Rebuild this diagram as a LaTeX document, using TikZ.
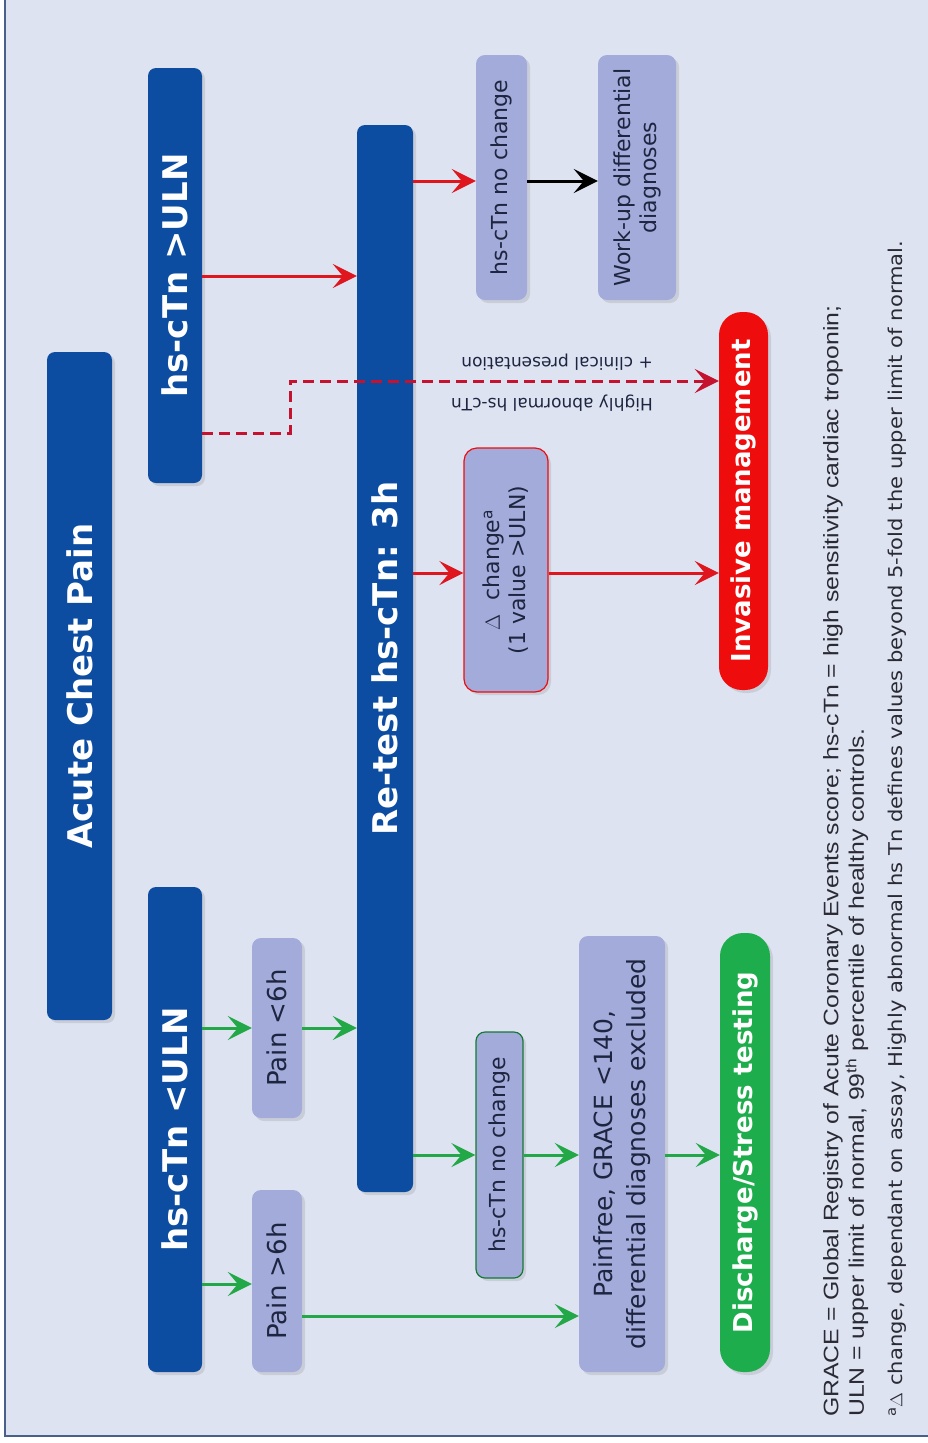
\documentclass[tikz,border=0pt]{standalone}
\usepackage{fontspec}
\setmainfont{DejaVu Sans}
\newfontfamily\notefont{Liberation Sans}
\usetikzlibrary{arrows.meta,shadows}

\definecolor{pagebg}{HTML}{DEE3F2}
\definecolor{framecol}{HTML}{4A5F8A}
\definecolor{navy}{HTML}{0C4DA2}
\definecolor{lilac}{HTML}{A3ABDA}
\definecolor{boxtext}{HTML}{1E2540}
\definecolor{alarm}{HTML}{EE0C0C}
\definecolor{okgreen}{HTML}{1EAD4C}
\definecolor{garr}{HTML}{22A847}
\definecolor{rarr}{HTML}{E0161E}
\definecolor{darr}{HTML}{C4122F}
\definecolor{notetext}{HTML}{2A2A35}

\tikzset{
  box/.style={rotate=90, inner sep=0pt, align=center,
    drop shadow={opacity=0.22, shadow xshift=3pt, shadow yshift=-3pt}},
  darkbox/.style={box, fill=navy, text=white, rounded corners=8pt,
    font=\bfseries\fontsize{34}{38}\selectfont},
  lightbox/.style={box, fill=lilac, text=boxtext, rounded corners=9pt,
    font=\fontsize{25}{33}\selectfont},
  smallbox/.style={lightbox, font=\fontsize{22}{26}\selectfont},
  pill/.style={box, rounded corners=23pt, text=white,
    font=\bfseries\fontsize{26}{30}\selectfont},
  flow/.style={line width=3pt, -{Stealth[length=24pt,width=24pt,inset=10pt]}},
  goflow/.style={flow, garr},
  stopflow/.style={flow, rarr},
  plainflow/.style={flow, black},
  dashflow/.style={flow, darr, dash pattern=on 11pt off 6pt},
  dashlabel/.style={rotate=180, anchor=west, inner sep=0pt, text=boxtext,
    font=\fontsize{17}{20}\selectfont},
  note/.style={rotate=90, anchor=west, inner sep=0pt, text=notetext}
}

\begin{document}
\begin{tikzpicture}[x=1pt,y=1pt]
\useasboundingbox (0,0) rectangle (928,-1443);
\fill[white] (0,0) rectangle (928,-1443);
\draw[framecol, line width=1.6pt, fill=pagebg] (5,12) rectangle (945,-1436);

% main column boxes
\node[darkbox, minimum width=668pt, minimum height=65pt] (chest) at (79.5,-686) {Acute Chest Pain};
\node[darkbox, minimum width=415pt, minimum height=54pt] (high) at (175,-275.5) {hs-cTn >ULN};
\node[darkbox, minimum width=485pt, minimum height=54pt] (low) at (175,-1129.5) {hs-cTn <ULN};
\node[darkbox, minimum width=1067pt, minimum height=56pt] (retest) at (385,-658.5) {Re-test hs-cTn: 3h};

% rule-out branch
\node[lightbox, font=\fontsize{26}{30}\selectfont, minimum width=180pt, minimum height=50pt] (early) at (277,-1028) {Pain <6h};
\node[lightbox, font=\fontsize{26}{30}\selectfont, minimum width=182pt, minimum height=50pt] (late) at (277,-1281) {Pain >6h};
\node[smallbox, draw=okgreen!70!black, line width=1.2pt, minimum width=246pt, minimum height=47pt] (flatlow) at (499.5,-1155) {hs-cTn no change};
\node[lightbox, minimum width=436pt, minimum height=86pt] (painfree) at (622,-1154) {Painfree, GRACE <140,\\differential diagnoses excluded};
\node[pill, fill=okgreen, minimum width=439pt, minimum height=50pt] (discharge) at (745,-1152.5) {Discharge/Stress testing};

% rule-in branch
\node[smallbox, draw=alarm, line width=1.2pt, rounded corners=13pt, minimum width=244pt, minimum height=84pt] (delta) at (506,-570) {$\Delta$\ \ change\textsuperscript{a}\\(1 value >ULN)};
\node[pill, fill=alarm, minimum width=378pt, minimum height=49pt] (invasive) at (743.5,-501) {Invasive management};
\node[smallbox, minimum width=245pt, minimum height=51pt] (flathigh) at (501.5,-177.5) {hs-cTn no change};
\node[smallbox, minimum width=245pt, minimum height=78pt] (workup) at (637,-177.5) {Work-up differential\\diagnoses};

% connectors: rule-out
\draw[goflow] (low.south |- 0,-1284) -- (late.north |- 0,-1284);
\draw[goflow] (low.south |- 0,-1028) -- (early.north |- 0,-1028);
\draw[goflow] (early.south |- 0,-1028) -- (retest.north |- 0,-1028);
\draw[goflow] (late.south |- 0,-1316) -- (painfree.north |- 0,-1316);
\draw[goflow] (retest.south |- 0,-1155) -- (flatlow.north |- 0,-1155);
\draw[goflow] (flatlow.south |- 0,-1155) -- (painfree.north |- 0,-1155);
\draw[goflow] (painfree.south |- 0,-1155) -- (discharge.north |- 0,-1155);

% connectors: rule-in
\draw[stopflow] (high.south |- 0,-276) -- (retest.north |- 0,-276);
\draw[stopflow] (retest.south |- 0,-573) -- (delta.north |- 0,-573);
\draw[stopflow] (delta.south |- 0,-573) -- (invasive.north |- 0,-573);
\draw[stopflow] (retest.south |- 0,-181) -- (flathigh.north |- 0,-181);
\draw[plainflow] (flathigh.south |- 0,-181) -- (workup.north |- 0,-181);

% direct path for highly abnormal values
\coordinate (jogA) at (290,-433);
\coordinate (jogB) at (290,-381);
\draw[dashflow] (high.south |- jogA) -- (jogA) -- (jogB) -- (invasive.north |- jogB);
\node[dashlabel] (dl1) at (653,-403) {Highly abnormal hs-cTn};
\node[dashlabel] (dl2) at (653,-362) {+ clinical presentation};

% footnotes
\node[note, font=\notefont\fontsize{21}{24}\selectfont] (n1) at (833,-1417) {\scalebox{1.18}[1]{GRACE = Global Registry of Acute Coronary Events score; hs-cTn = high sensitivity cardiac troponin;}};
\node[note, font=\notefont\fontsize{21}{24}\selectfont] (n2) at (857,-1417) {\scalebox{1.18}[1]{ULN = upper limit of normal, 99\textsuperscript{th} percentile of healthy controls.}};
\node[note, font=\fontsize{19}{22}\selectfont] (n3) at (897,-1417) {\scalebox{1.11}[1]{\textsuperscript{a}$\Delta$ change, dependant on assay, Highly abnormal hs Tn defines values beyond 5-fold the upper limit of normal.}};
\end{tikzpicture}
\end{document}
